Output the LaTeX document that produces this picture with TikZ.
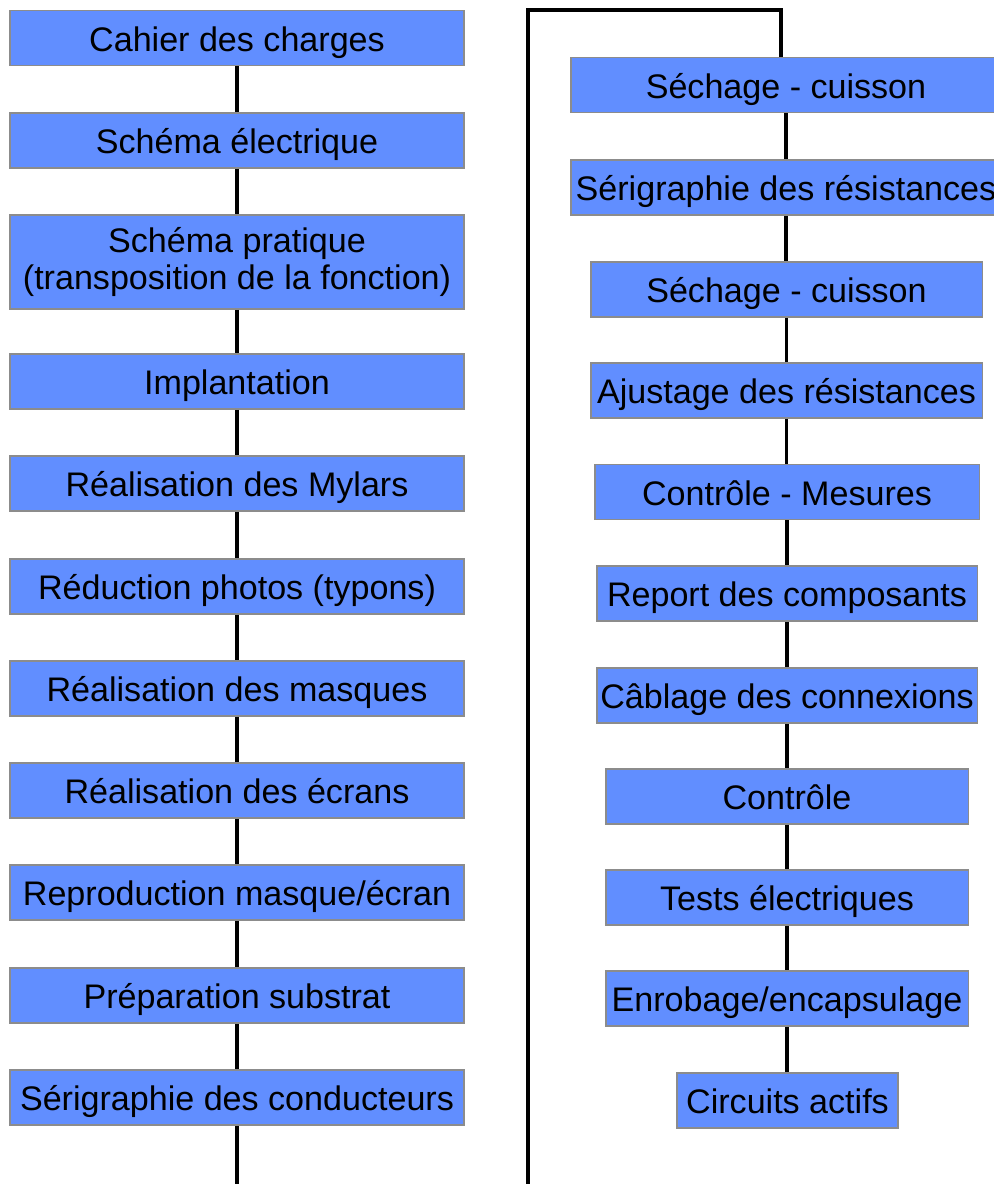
\documentclass[tikz,border=0pt]{standalone}
\usepackage{fontspec}
\setmainfont{Liberation Sans}
\definecolor{boxblue}{RGB}{97,142,255}
\definecolor{boxgray}{RGB}{140,140,140}
\tikzset{
  box/.style={draw=boxgray, line width=1.1pt, fill=boxblue, minimum height=1.1cm,
    inner sep=0pt, align=center, text height=0.58cm, text depth=0.06cm,
    font=\fontsize{19.4pt}{21pt}\selectfont},
  link/.style={line width=2pt}
}

\begin{document}
\begin{tikzpicture}[x=0.02cm, y=-0.02cm]
                \useasboundingbox (0,0) rectangle (994,1184);
                \clip (0,0) rectangle (994,1184);
                % left column
                \node[box, minimum width=9.08cm] (L1) at (237,38) {Cahier des charges};
                \node[box, minimum width=9.08cm] (L2) at (237,140.5) {Schéma électrique};
                \node[box, minimum width=9.08cm, minimum height=1.88cm, text height={}, text depth={}] (L3) at (237,262) {Schéma pratique\\(transposition de la fonction)};
                \node[box, minimum width=9.08cm] (L4) at (237,381.5) {Implantation};
                \node[box, minimum width=9.08cm] (L5) at (237,483.5) {Réalisation des Mylars};
                \node[box, minimum width=9.08cm] (L6) at (237,586.5) {Réduction photos (typons)};
                \node[box, minimum width=9.08cm] (L7) at (237,688.5) {Réalisation des masques};
                \node[box, minimum width=9.08cm] (L8) at (237,790.5) {Réalisation des écrans};
                \node[box, minimum width=9.08cm] (L9) at (237,892.5) {Reproduction masque/écran};
                \node[box, minimum width=9.08cm] (L10) at (237,995.5) {Préparation substrat};
                \node[box, minimum width=9.08cm] (L11) at (237,1097.5) {Sérigraphie des conducteurs};
                % right column
                \node[box, minimum width=8.6cm] (R1) at (786,85) {Séchage - cuisson};
                \node[box, minimum width=8.6cm] (R2) at (786,187.5) {Sérigraphie des résistances};
                \node[box, minimum width=7.84cm] (R3) at (786.5,289.5) {Séchage - cuisson};
                \node[box, minimum width=7.84cm] (R4) at (786.5,390.5) {Ajustage des résistances};
                \node[box, minimum width=7.7cm] (R5) at (787,492) {Contrôle - Mesures};
                \node[box, minimum width=7.62cm] (R6) at (787,593.5) {Report des composants};
                \node[box, minimum width=7.62cm] (R7) at (787,695.5) {Câblage des connexions};
                \node[box, minimum width=7.26cm] (R8) at (787,796.5) {Contrôle};
                \node[box, minimum width=7.26cm] (R9) at (787,897.5) {Tests électriques};
                \node[box, minimum width=7.26cm] (R10) at (787,998.5) {Enrobage/encapsulage};
                \node[box, minimum width=4.42cm] (R11) at (787.5,1100.5) {Circuits actifs};
                % connectors
                \coordinate (A) at (237,1184);
                \coordinate (B) at (528,1184);
                \coordinate (C) at (528,10);
                \coordinate (D) at (781,10);
                \foreach \i [evaluate=\i as \j using int(\i+1)] in {1,...,10} {
                  \draw[link] (L\i.south) -- (L\i.south |- L\j.north);
                  \draw[link] (R\i.south) -- (R\i.south |- R\j.north);
                }
                \draw[link] (L11.south) -- (A);
                \draw[link] (B) -- (C) -- (D) -- (D |- R1.north);
            \end{tikzpicture}
\end{document}
